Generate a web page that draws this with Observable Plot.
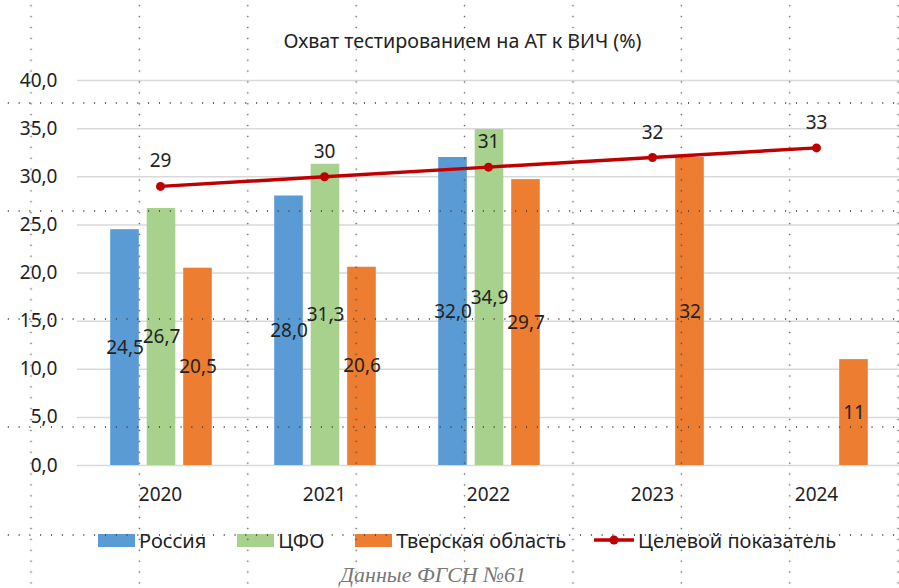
<!DOCTYPE html>
<html>
<head>
<meta charset="utf-8">
<script src="https://cdn.jsdelivr.net/npm/d3@7"></script>
<script src="https://cdn.jsdelivr.net/npm/@observablehq/plot@0.6"></script>
<style>
  html, body { margin: 0; padding: 0; background: #fff; }
  body { width: 899px; height: 588px; position: relative; overflow: hidden; font-family: "Noto Sans", sans-serif; color: #222; }
  #title { position: absolute; left: 0; width: 925px; top: 28px; text-align: center; font-size: 19.7px; line-height: 26px; color: #222; }
  #chart { position: absolute; left: 0; top: 60px; }
  #legend { position: absolute; left: 98px; top: 527px; height: 26px; display: flex; align-items: center; font-size: 20px; color: #222; }
  #legend .item { display: flex; align-items: center; margin-right: 31px; }
  #legend .item:nth-child(3) { margin-right: 28px; }
  #legend .sw { width: 37px; height: 13px; margin-right: 4px; }
  #legend svg { margin-right: 4px; }
  #caption { position: absolute; left: 0; width: 866px; top: 562px; text-align: center; font-family: "Liberation Serif", serif; font-style: italic; font-size: 22px; line-height: 26px; color: #777; }
  #dots { position: absolute; inset: 0; pointer-events: none;
    background-image:
      radial-gradient(circle 1.1px at 50% 50%, rgba(60,60,60,0.85) 55%, rgba(60,60,60,0) 100%),
      radial-gradient(circle 1.1px at 50% 50%, rgba(60,60,60,0.85) 55%, rgba(60,60,60,0) 100%);
    background-size: 108.4px 10.9px, 10.8px 108px;
    background-position: -23.2px 11.2px, 2.9px 49px;
  }
</style>
</head>
<body>
<div id="title">Охват тестированием на АТ к ВИЧ (%)</div>
<div id="chart"></div>
<div id="legend"></div>
<div id="caption">Данные ФГСН №61</div>
<div id="dots"></div>
<script>
const years = ["2020", "2021", "2022", "2023", "2024"];
const russia = [24.5, 28.0, 32.0, null, null];
const russiaLabels = ["24,5", "28,0", "32,0", null, null];
const cfo = [26.7, 31.3, 34.9, null, null];
const cfoLabels = ["26,7", "31,3", "34,9", null, null];
const tver = [20.5, 20.6, 29.7, 32, 11];
const tverLabels = ["20,5", "20,6", "29,7", "32", "11"];
const target = [29, 30, 31, 32, 33];
const targetLabels = ["29", "30", "31", "32", "33"];
const yTicks = [0, 5, 10, 15, 20, 25, 30, 35, 40];
const seriesNames = ["Россия", "ЦФО", "Тверская область", "Целевой показатель"];
const colors = ["#5B9BD5", "#A9D18E", "#ED7D31", "#C00000"];

function rows(values, labels) {
  return years.map((year, i) => ({year, value: values[i], label: labels[i]})).filter(d => d.value != null);
}
const russiaRows = rows(russia, russiaLabels);
const cfoRows = rows(cfo, cfoLabels);
const tverRows = rows(tver, tverLabels);
const targetRows = rows(target, targetLabels);

const W = 899, H = 450, mL = 77, mR = 0, mT = 20, mB = 45;
const bandW = (W - mL - mR) / years.length;
const barW = 29, step = 36.5;
const inset = (bandW - barW) / 2;
const fs = 19;

function barSeries(data, color, dx) {
  return [
    Plot.barY(data, {x: "year", y: "value", fill: color, dx: dx + 1, insetLeft: inset, insetRight: inset}),
    Plot.text(data, {x: "year", y: d => d.value / 2, text: "label", dx: dx + 1, fontSize: fs, fill: "#222"})
  ];
}

const chart = Plot.plot({
  width: W, height: H,
  marginLeft: mL, marginRight: mR, marginTop: mT, marginBottom: mB,
  style: {fontFamily: "'Noto Sans', sans-serif", fontSize: fs + "px", color: "#222", background: "transparent"},
  x: {type: "band", domain: years, padding: 0, label: null},
  y: {domain: [0, 40], label: null},
  marks: [
    Plot.ruleY(yTicks, {stroke: "#d9d9d9", strokeWidth: 1.5}),
    ...barSeries(russiaRows, colors[0], -step),
    ...barSeries(cfoRows, colors[1], 0),
    ...barSeries(tverRows, colors[2], step),
    Plot.line(targetRows, {x: "year", y: "value", stroke: colors[3], strokeWidth: 3.5}),
    Plot.dot(targetRows, {x: "year", y: "value", fill: colors[3], r: 4.5}),
    Plot.text(targetRows, {x: "year", y: "value", text: "label", dy: -25, fontSize: fs, fill: "#222"}),
    Plot.axisY({ticks: yTicks, tickFormat: d => d.toFixed(1).replace(".", ","), tickSize: 0, tickPadding: 20, fontSize: fs, label: null}),
    Plot.axisX({tickSize: 0, tickPadding: 22, fontSize: fs, label: null})
  ]
});
document.getElementById("chart").appendChild(chart);

const legend = document.getElementById("legend");
seriesNames.forEach((name, i) => {
  const item = document.createElement("div");
  item.className = "item";
  if (i < 3) {
    const sw = document.createElement("span");
    sw.className = "sw";
    sw.style.background = colors[i];
    item.appendChild(sw);
  } else {
    const ns = "http://www.w3.org/2000/svg";
    const svg = document.createElementNS(ns, "svg");
    svg.setAttribute("width", 40); svg.setAttribute("height", 14);
    const ln = document.createElementNS(ns, "line");
    ln.setAttribute("x1", 0); ln.setAttribute("x2", 40); ln.setAttribute("y1", 7); ln.setAttribute("y2", 7);
    ln.setAttribute("stroke", colors[3]); ln.setAttribute("stroke-width", 3.5);
    const c = document.createElementNS(ns, "circle");
    c.setAttribute("cx", 20); c.setAttribute("cy", 7); c.setAttribute("r", 4.5); c.setAttribute("fill", colors[3]);
    svg.appendChild(ln); svg.appendChild(c);
    item.appendChild(svg);
  }
  const t = document.createElement("span");
  t.textContent = name;
  item.appendChild(t);
  legend.appendChild(item);
});
</script>
</body>
</html>
